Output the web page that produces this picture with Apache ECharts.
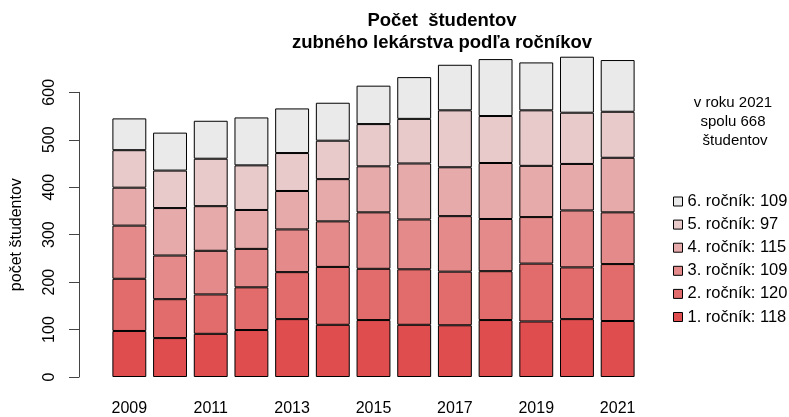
<!DOCTYPE html>
<html>
<head>
<meta charset="utf-8">
<script src="https://cdn.jsdelivr.net/npm/echarts@6/dist/echarts.min.js"></script>
<style>html,body{margin:0;padding:0;background:#fff}#c{width:789px;height:417px}</style>
</head>
<body>
<div id="c"></div>
<script>
const years = ['2009','2010','2011','2012','2013','2014','2015','2016','2017','2018','2019','2020','2021'];
const rocnik1 = [97, 82, 91, 99, 122, 110, 120, 110, 109, 120, 117, 122, 118];
const rocnik2 = [110, 82, 83, 90, 99, 122, 108, 117, 113, 103, 122, 109, 120];
const rocnik3 = [112, 92, 92, 81, 90, 96, 119, 105, 117, 110, 98, 120, 109];
const rocnik4 = [80, 100, 94, 82, 81, 89, 97, 118, 103, 118, 108, 98, 115];
const rocnik5 = [79, 79, 100, 94, 80, 81, 89, 94, 120, 99, 117, 108, 97];
const rocnik6 = [67, 80, 80, 101, 94, 80, 81, 88, 96, 120, 101, 118, 109];
const yTicks = [0, 100, 200, 300, 400, 500, 600];
const colors = ['#DF4D4F', '#E26B6B', '#E48A8A', '#E6AAAA', '#E8CACB', '#EAEAEA'];

const all = [rocnik1, rocnik2, rocnik3, rocnik4, rocnik5, rocnik6];
const lastIdx = years.length - 1;
const total = all.reduce((s, a) => s + a[lastIdx], 0);
const names = all.map((a, i) => (i + 1) + '. ročník: ' + a[lastIdx]);
const FONT = '"Liberation Sans", Arial, sans-serif';

const chart = echarts.init(document.getElementById('c'), null, {renderer: 'canvas'});
chart.setOption({
  animation: false,
  textStyle: {fontFamily: FONT},
  title: [
    {
      text: 'Počet  študentov\nzubného lekárstva podľa ročníkov',
      left: 437, top: 5, textAlign: 'center',
      textStyle: {fontFamily: FONT, fontSize: 18.5, fontWeight: 'bold', color: '#000', lineHeight: 22}
    },
    {
      text: 'v roku ' + years[lastIdx] + '\nspolu ' + total + '\n študentov',
      left: 728, top: 88, textAlign: 'center',
      textStyle: {fontFamily: FONT, fontSize: 15, fontWeight: 'normal', color: '#000', lineHeight: 19}
    }
  ],
  legend: {
    orient: 'vertical',
    left: 668, top: 188,
    itemWidth: 9, itemHeight: 9, itemGap: 6.1,
    icon: 'rect',
    data: names.slice().reverse(),
    itemStyle: {borderColor: '#000', borderWidth: 1},
    textStyle: {fontFamily: FONT, fontSize: 16.5, color: '#000', lineHeight: 14}
  },
  grid: {left: 109, right: 151, top: 92.3, bottom: 38.7, containLabel: false},
  xAxis: {
    type: 'category',
    data: years,
    axisLine: {show: false},
    axisTick: {show: false},
    axisLabel: {interval: 1, margin: 24, fontSize: 16, color: '#000', fontFamily: FONT}
  },
  yAxis: {
    type: 'value',
    min: yTicks[0], max: yTicks[yTicks.length - 1], interval: 100,
    offset: 30,
    name: 'počet študentov',
    nameLocation: 'middle',
    nameGap: 54,
    nameRotate: 90,
    nameTextStyle: {fontFamily: FONT, fontSize: 16, color: '#000'},
    axisLine: {show: true, lineStyle: {color: '#444', width: 1}},
    axisTick: {show: true, length: 10, lineStyle: {color: '#444'}},
    axisLabel: {rotate: 90, margin: 21, fontSize: 16, color: '#000', fontFamily: FONT},
    splitLine: {show: false}
  },
  series: all.map((arr, i) => ({
    name: names[i],
    type: 'bar',
    stack: 'total',
    clip: false,
    barCategoryGap: '16.7%',
    data: arr,
    itemStyle: {color: colors[i], borderColor: '#000', borderWidth: 1}
  }))
});
</script>
</body>
</html>
